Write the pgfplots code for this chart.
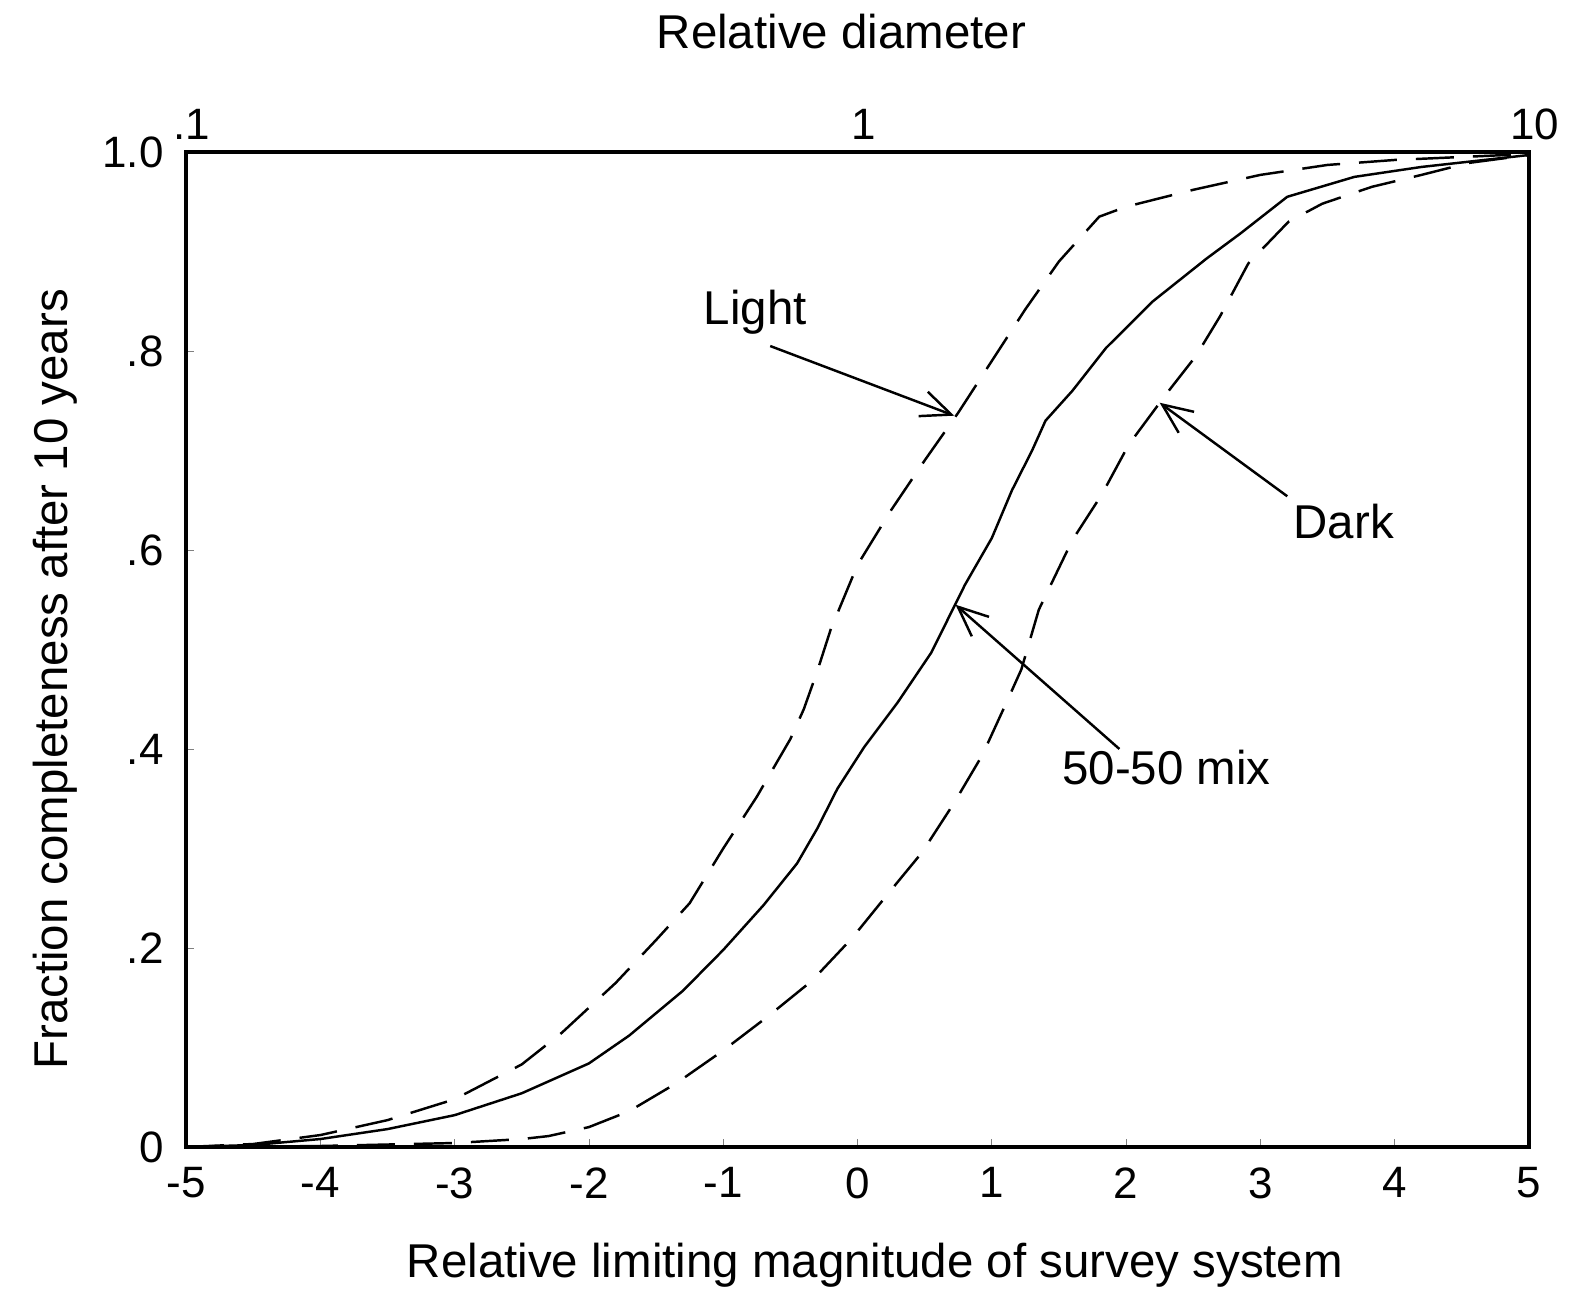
\documentclass[border=0pt]{standalone}
\usepackage{pgfplots}
\pgfplotsset{compat=1.18}
\usepackage{fontspec}
\setmainfont{Liberation Sans}
\usetikzlibrary{arrows.meta}

% completeness curves: relative limiting magnitude vs. fraction found
\pgfplotstableread{
x y
-5 0
-4.5 0.003
-4 0.012
-3.5 0.027
-3 0.048
-2.5 0.083
-2.2 0.115
-1.8 0.165
-1.5 0.208
-1.25 0.245
-1 0.30
-0.75 0.352
-0.5 0.41
-0.4 0.44
-0.3 0.478
-0.2 0.52
0 0.585
0.25 0.64
0.5 0.69
0.75 0.738
1.0 0.79
1.25 0.842
1.5 0.89
1.8 0.935
2.0 0.945
2.5 0.962
3 0.977
3.5 0.987
4 0.992
4.5 0.995
5 0.998
}\light

\pgfplotstableread{
x y
-5 0
-4.5 0.002
-4 0.008
-3.5 0.018
-3 0.032
-2.5 0.054
-2 0.084
-1.7 0.112
-1.3 0.157
-1 0.198
-0.7 0.243
-0.45 0.285
-0.3 0.32
-0.15 0.36
0.05 0.402
0.3 0.447
0.55 0.497
0.8 0.565
1.0 0.612
1.15 0.66
1.3 0.70
1.4 0.73
1.6 0.76
1.85 0.803
2.2 0.85
2.6 0.893
2.85 0.918
3.2 0.955
3.7 0.975
4.2 0.985
5 0.997
}\mix

\pgfplotstableread{
x y
-5 0
-4 0.001
-3 0.004
-2.5 0.008
-2.3 0.011
-2 0.02
-1.7 0.036
-1.35 0.064
-1.0 0.097
-0.66 0.132
-0.34 0.167
-0.04 0.21
0.23 0.255
0.48 0.296
0.72 0.346
0.93 0.394
1.11 0.447
1.22 0.48
1.35 0.54
1.6 0.61
1.82 0.656
2.02 0.706
2.3 0.757
2.52 0.795
2.7 0.835
2.91 0.888
3.21 0.93
3.46 0.948
3.83 0.965
4.2 0.977
4.55 0.989
5 0.997
}\dark

\begin{document}
\begin{tikzpicture}[font=\fontsize{13.5}{16}\selectfont]
\begin{axis}[
  name=main,
  scale only axis, width=134.3mm, height=99.5mm,
  xmin=-5, xmax=5, ymin=0, ymax=1,
  axis line style={line width=1.1pt},
  xtick={-5,-4,-3,-2,-1,0,1,2,3,4,5},
  xticklabels={-5,-4,-3,-2,-1,0,1,2,3,4,5},
  ytick={0,0.2,0.4,0.6,0.8,1},
  yticklabels={0,.2,.4,.6,.8,1.0},
  xtick pos=bottom, ytick pos=left,
  tick align=inside, major tick length=0.8mm,
  tick label style={font=\fontsize{12.5}{14}\selectfont},
  xticklabel style={yshift=-0.8mm},
  yticklabel style={xshift=-1mm},
  xlabel={Relative limiting magnitude of survey system},
  xlabel style={at={(axis description cs:0.513,-0.119)}, anchor=center},
  ylabel={Fraction completeness after 10 years},
  ylabel style={at={(axis description cs:-0.0975,0.47)}, anchor=center},
  clip=false,
]
\addplot[black, line width=0.7pt, dash pattern=on 3.8mm off 1.9mm] table {\light};
\addplot[black, line width=0.7pt] table {\mix};
\addplot[black, line width=0.7pt, dash pattern=on 3.8mm off 1.9mm] table {\dark};

\draw[line width=0.7pt, -{Straight Barb[length=3mm,width=2.6mm]}]
  (axis cs:-0.65,0.805) -- (axis cs:0.72,0.735);
\node at (axis cs:-0.76,0.839) {Light};

\draw[line width=0.7pt, -{Straight Barb[length=3mm,width=2.6mm]}]
  (axis cs:3.2,0.654) -- (axis cs:2.25,0.748);
\node at (axis cs:3.62,0.629) {Dark};

\draw[line width=0.7pt, -{Straight Barb[length=3mm,width=2.6mm]}]
  (axis cs:1.95,0.40) -- (axis cs:0.73,0.545);
\node at (axis cs:2.3,0.381) {50-50 mix};
\end{axis}

% diameter scale along the top
\begin{axis}[
  scale only axis, width=134.3mm, height=99.5mm,
  xmode=log, xmin=0.1, xmax=10, ymin=0, ymax=1,
  axis x line*=top, hide y axis,
  axis line style={draw=none},
  xtick={0.1,1,10}, xticklabels={.1,1,10},
  minor xtick={},
  major tick length=0pt, minor tick length=0pt,
  tick label style={font=\fontsize{12.5}{14}\selectfont},
  xticklabel style={xshift=0.6mm},
  xlabel={Relative diameter},
  xlabel style={at={(axis description cs:0.488,1.121)}, anchor=center},
]
\end{axis}

\pgfresetboundingbox
\path[use as bounding box]
  ([xshift=-18.6mm,yshift=-15.7mm]main.south west)
  rectangle ([xshift=4.9mm,yshift=15.2mm]main.north east);
\end{tikzpicture}
\end{document}
